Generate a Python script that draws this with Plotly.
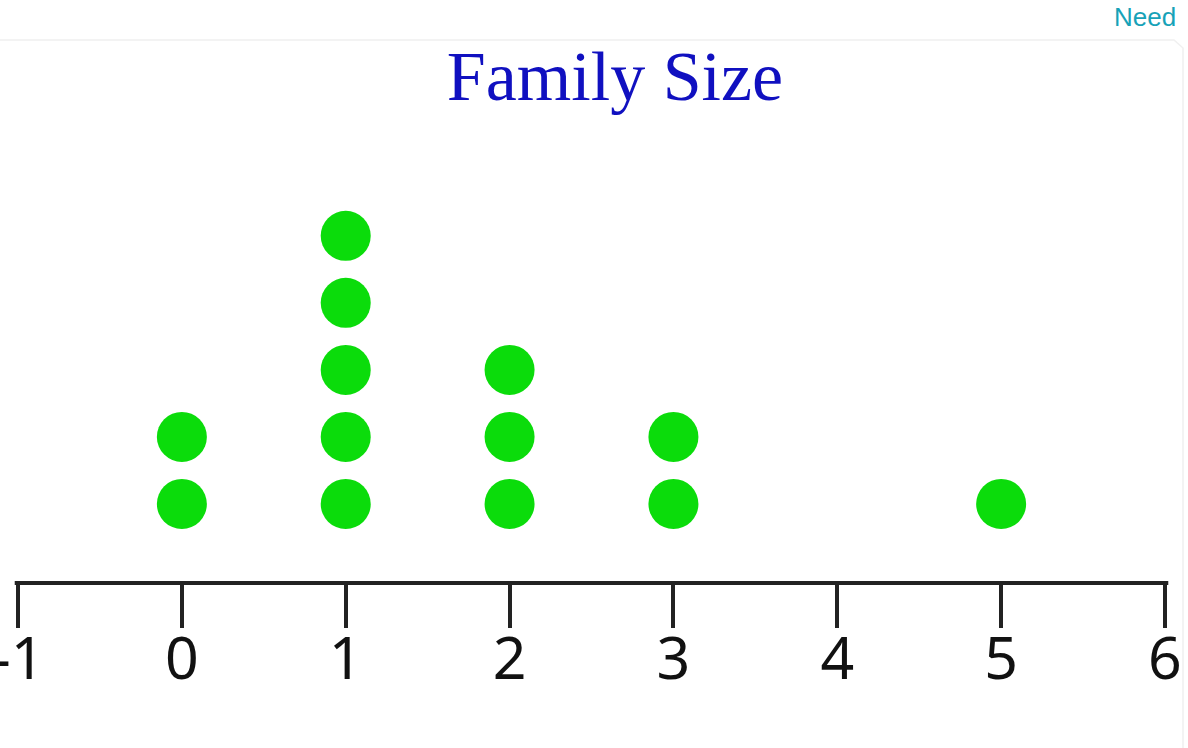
import plotly.graph_objects as go

# Data
family_size = [0, 1, 2, 3, 4, 5]
counts = [2, 5, 3, 2, 0, 1]
tick_values = [-1, 0, 1, 2, 3, 4, 5, 6]
tick_labels = ["-1", "0", "1", "2", "3", "4", "5", "6"]

xs, ys = [], []
for v, c in zip(family_size, counts):
    for k in range(1, c + 1):
        xs.append(v)
        ys.append(k)

W, H = 1188, 748
ML, MR, MT, MB = 0, 0, 150, 165
plot_h = H - MT - MB

def px_to_paper_y(py):
    return (H - MB - py) / plot_h

fig = go.Figure()
fig.add_trace(go.Scatter(
    x=xs, y=ys, mode="markers",
    marker=dict(size=50, color="#0BDC0B", line=dict(width=0)),
    hoverinfo="skip", showlegend=False,
))

# axis line from -1 to 6
fig.add_shape(type="line", xref="x", yref="paper", x0=-1.02, x1=6.02, y0=0, y1=0,
              line=dict(color="#222222", width=4))

# faint card border
fig.add_shape(type="path", xref="paper", yref="paper",
              path=f"M 0,{px_to_paper_y(40)} L {1174/W},{px_to_paper_y(40)} L {1183/W},{px_to_paper_y(48)} L {1183/W},{px_to_paper_y(748)}",
              line=dict(color="#f0f0f0", width=1.5))

fig.add_annotation(text="Need", xref="paper", yref="paper", x=1178 / W, y=px_to_paper_y(0),
                   xanchor="right", yanchor="top", showarrow=False,
                   font=dict(family="Liberation Sans", size=26, color="#17A2B8"))

fig.update_layout(
    width=W, height=H,
    margin=dict(l=ML, r=MR, t=MT, b=MB, autoexpand=False),
    paper_bgcolor="white", plot_bgcolor="white",
    title=dict(text="Family Size", x=615 / W, xanchor="center", y=1 - 75 / H, yanchor="middle",
               font=dict(family="Liberation Serif", size=70, color="#1010C0")),
    xaxis=dict(range=[-1.1099, 6.1404], tickvals=tick_values, ticktext=tick_labels,
               ticks="outside", ticklen=44, tickwidth=4, tickcolor="#222222",
               ticklabelstandoff=-20, ticklabeloverflow="allow", automargin=False,
               showgrid=False, zeroline=False, showline=False,
               tickfont=dict(family="Noto Sans", size=59, color="#111111"),
               fixedrange=True),
    yaxis=dict(range=[-0.179, 6.28], visible=False, showgrid=False, zeroline=False,
               automargin=False, fixedrange=True),
)

fig.write_html("out.html", config={"displayModeBar": False},
               post_script="document.body.style.margin='0';document.body.style.overflow='hidden';")
